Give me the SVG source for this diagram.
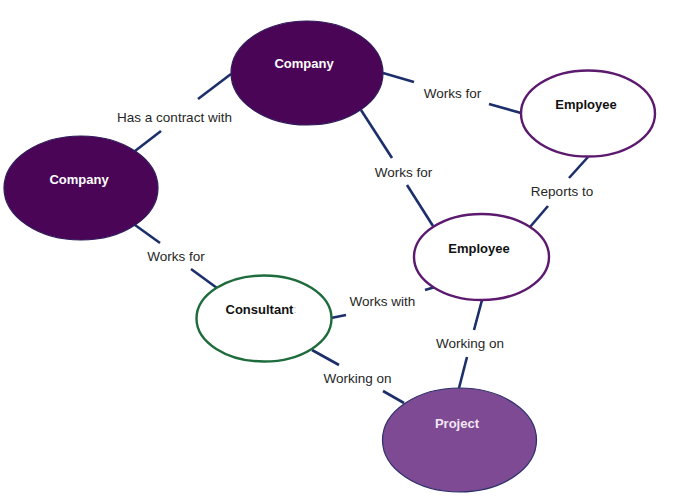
<svg xmlns="http://www.w3.org/2000/svg" width="673" height="499" viewBox="0 0 673 499">
<style>
.conn line{stroke:#1c2f6b;stroke-width:2.6;stroke-linecap:butt}
.lbl{font-family:"Liberation Sans",Arial,sans-serif;font-size:13.5px;fill:#262626;text-anchor:middle;dominant-baseline:central}
.nt{font-family:"Liberation Sans",Arial,sans-serif;font-size:13px;font-weight:bold;text-anchor:middle;dominant-baseline:central}
.company{fill:#4b0557;stroke:#2f1a5a;stroke-width:1.2}
.emp{fill:#ffffff;stroke:#5b1a6e;stroke-width:2.4}
.cons{fill:#ffffff;stroke:#1e6b3c;stroke-width:2.4}
.proj{fill:#7e4a93;stroke:#2b2f6a;stroke-width:1.2}
</style>
<rect width="673" height="499" fill="#ffffff"/>
<g id="connectors" class="conn">
<line x1="135" y1="151" x2="161" y2="131"/>
<line x1="198" y1="99" x2="231" y2="74"/>
<line x1="135" y1="225" x2="160" y2="243"/>
<line x1="191" y1="269" x2="217" y2="288"/>
<line x1="383" y1="73" x2="414" y2="82"/>
<line x1="489" y1="104" x2="521" y2="113"/>
<line x1="361" y1="110" x2="392" y2="158"/>
<line x1="407" y1="185" x2="433" y2="226"/>
<line x1="588" y1="157" x2="569" y2="178"/>
<line x1="548" y1="206" x2="530" y2="227"/>
<line x1="331" y1="318" x2="346" y2="315"/>
<line x1="425" y1="290" x2="435" y2="287"/>
<line x1="482" y1="300" x2="474" y2="330"/>
<line x1="467" y1="357" x2="459" y2="388"/>
<line x1="312" y1="350" x2="339" y2="365"/>
<line x1="383" y1="391" x2="404" y2="403"/>
</g>
<g id="labels">
<text class="lbl" x="174.5" y="117">Has a contract with</text>
<text class="lbl" x="176" y="256">Works for</text>
<text class="lbl" x="452.5" y="93">Works for</text>
<text class="lbl" x="403.5" y="172">Works for</text>
<text class="lbl" x="562" y="191">Reports to</text>
<text class="lbl" x="382.5" y="301">Works with</text>
<text class="lbl" x="470" y="343">Working on</text>
<text class="lbl" x="357.5" y="378">Working on</text>
</g>
<g id="company-top">
<ellipse class="company" cx="307" cy="73" rx="76" ry="52"/>
<text class="nt" x="304" y="63" fill="#ffffff">Company</text>
</g>
<g id="company-left">
<ellipse class="company" cx="81" cy="188" rx="77" ry="52"/>
<text class="nt" x="79" y="179" fill="#ffffff">Company</text>
</g>
<g id="employee-top">
<ellipse class="emp" cx="588" cy="113.5" rx="67" ry="43"/>
<text class="nt" x="586" y="104" fill="#111111">Employee</text>
</g>
<g id="employee-mid">
<ellipse class="emp" cx="481.5" cy="257" rx="67.5" ry="43"/>
<text class="nt" x="479" y="248" fill="#111111">Employee</text>
</g>
<g id="consultant">
<ellipse class="cons" cx="264" cy="318.5" rx="67.5" ry="43"/>
<text class="nt" x="261" y="309" fill="#111111">Consultant<tspan fill="#bbbbbb" font-weight="normal" font-size="11px">:</tspan></text>
</g>
<g id="project">
<ellipse class="proj" cx="459.5" cy="440" rx="77" ry="52"/>
<text class="nt" x="457" y="423" fill="#f3e6f3">Project</text>
</g>
</svg>
